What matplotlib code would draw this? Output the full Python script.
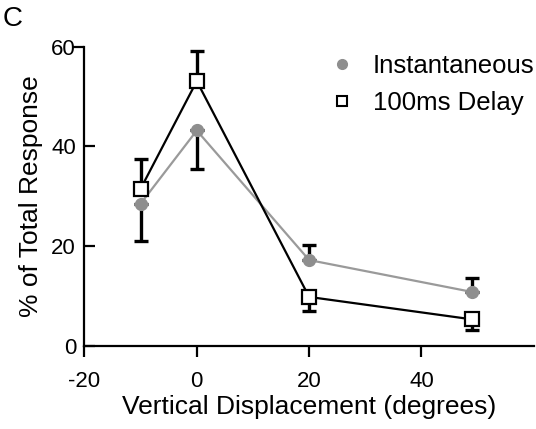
import matplotlib
matplotlib.use('Agg')
import matplotlib.pyplot as plt
import matplotlib.lines as mlines

plt.rcParams['font.family'] = ['Liberation Sans', 'DejaVu Sans']
plt.rcParams['axes.unicode_minus'] = False

# vertical displacement of the stimulus (degrees)
displacement = [-10, 0, 20, 49]

# % of total response, with one-sided error bars
instant = [28.5, 43.2, 17.2, 10.8]
instant_err = [7.5, 7.7, 3.0, 2.8]
delay = [31.5, 53.1, 9.8, 5.3]
delay_err = [6.0, 6.0, 2.8, 2.2]

gray = '#9a9a9a'

fig = plt.figure(figsize=(5.36, 4.29), dpi=100)
ax = fig.add_axes([0.1575, 0.194, 0.8385, 0.697])

# error bars point away from the other series
inst_lo = [e if i < d else 0 for i, d, e in zip(instant, delay, instant_err)]
inst_hi = [e if i > d else 0 for i, d, e in zip(instant, delay, instant_err)]
del_lo = [e if d < i else 0 for i, d, e in zip(instant, delay, delay_err)]
del_hi = [e if d > i else 0 for i, d, e in zip(instant, delay, delay_err)]

ax.errorbar(displacement, instant, yerr=[inst_lo, inst_hi], fmt='none',
            ecolor='black', elinewidth=2.4, capsize=5, capthick=2.4, zorder=2)
ax.errorbar(displacement, delay, yerr=[del_lo, del_hi], fmt='none',
            ecolor='black', elinewidth=2.4, capsize=5, capthick=2.4, zorder=2)

ax.plot(displacement, instant, color=gray, lw=1.6, marker='o', ms=8.5,
        mfc='#8e8e8e', mec='#8e8e8e', zorder=3)
ax.plot(displacement, delay, color='black', lw=1.6, marker='s', ms=9.5,
        mfc='white', mec='black', mew=1.6, zorder=4)

ax.set_xlim(-20, 60)
ax.set_ylim(0, 60)
ax.set_xticks([-20, 0, 20, 40])
ax.set_yticks([0, 20, 40, 60])
ax.spines['top'].set_visible(False)
ax.spines['right'].set_visible(False)
for s in ('left', 'bottom'):
    ax.spines[s].set_linewidth(1.6)
ax.tick_params(axis='x', direction='out', length=8, width=1.6,
               labelsize=16, pad=10)
ax.tick_params(axis='y', direction='in', length=8, width=1.6,
               labelsize=16, pad=6)
# top y tick sits outside the axis
top = ax.yaxis.get_major_ticks()[-1]
top.tick1line.set_marker(mlines.TICKLEFT)

ax.set_xlabel('Vertical Displacement (degrees)', fontsize=19, labelpad=2)
ax.set_ylabel('% of Total Response', fontsize=19, labelpad=6)

handles = [
    mlines.Line2D([], [], ls='none', marker='o', ms=7, mfc='#8e8e8e',
                  mec='#8e8e8e', label='Instantaneous'),
    mlines.Line2D([], [], ls='none', marker='s', ms=7.5, mfc='white',
                  mec='black', mew=1.5, label='100ms Delay'),
]
ax.legend(handles=handles, frameon=False, fontsize=18.5, loc='upper left',
          bbox_to_anchor=(0.55, 0.975), handlelength=0.8, handletextpad=0.8,
          labelspacing=0.5, borderaxespad=0, borderpad=0)

fig.text(0.005, 0.985, 'C', fontsize=20, va='top', ha='left')

fig.savefig('out.png', dpi=100)
